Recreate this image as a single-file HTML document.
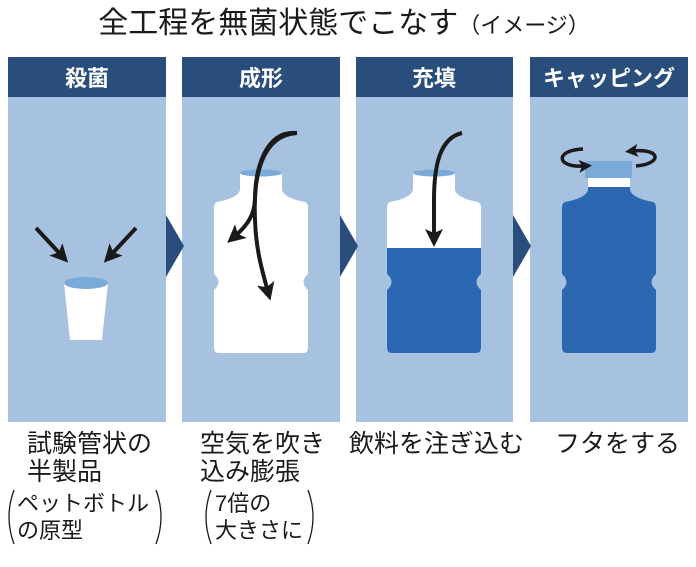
<!DOCTYPE html>
<html><head><meta charset="utf-8"><style>
html,body{margin:0;padding:0;background:#fff;width:696px;height:567px;overflow:hidden}
svg text{font-family:"Liberation Sans","Noto Sans CJK JP",sans-serif}
</style></head><body>
<svg width="696" height="567" viewBox="0 0 696 567" xmlns="http://www.w3.org/2000/svg">
<defs>
<path id="btl" d="M240,173 L282,173 L282,190 Q284,198 305,202 Q308,203 308,208 L308,274 Q299,282 308,290 L308,348 Q308,353 303,353 L219,353 Q214,353 214,348 L214,290 Q223,282 214,274 L214,208 Q214,203 217,202 Q238,198 240,190 Z"/>
<marker id="ah" markerWidth="18" markerHeight="18" refX="9" refY="9" orient="auto" markerUnits="userSpaceOnUse"><path d="M0,0 L18,9 L0,18 L4,9 Z" fill="#1a1a1a"/></marker>
<marker id="ah2" markerWidth="13" markerHeight="13" refX="6" refY="6.5" orient="auto" markerUnits="userSpaceOnUse"><path d="M0,0 L13,6.5 L0,13 L3,6.5 Z" fill="#1a1a1a"/></marker>
</defs>
<text x="344" y="33" text-anchor="middle" font-size="30" fill="#1a1a1a">全工程を無菌状態でこなす<tspan font-size="22">（イメージ）</tspan></text>
<g>
<rect x="8" y="57" width="158" height="40" fill="#2a4e7c"/><rect x="8" y="97" width="158" height="325" fill="#a7c1e0"/>
<rect x="182" y="57" width="158" height="40" fill="#2a4e7c"/><rect x="182" y="97" width="158" height="325" fill="#a7c1e0"/>
<rect x="356" y="57" width="157" height="40" fill="#2a4e7c"/><rect x="356" y="97" width="157" height="325" fill="#a7c1e0"/>
<rect x="530" y="57" width="158" height="40" fill="#2a4e7c"/><rect x="530" y="97" width="158" height="325" fill="#a7c1e0"/>
</g>
<g font-size="22" font-weight="bold" fill="#fff" text-anchor="middle">
<text x="87" y="86">殺菌</text><text x="261" y="86">成形</text><text x="434" y="86">充填</text><text x="609" y="86">キャッピング</text>
</g>
<g fill="#2a4e7c">
<path d="M166,215 L184,246 L166,277 Z"/><path d="M340,215 L358,246 L340,277 Z"/><path d="M513,215 L531,246 L513,277 Z"/>
</g>
<path d="M64,283 L108,283 L102,340 L70,340 Z" fill="#fff"/>
<ellipse cx="86" cy="283" rx="22" ry="6" fill="#7aaad8"/>
<g stroke="#1a1a1a" stroke-width="4" fill="none" marker-end="url(#ah)">
<line x1="36" y1="228" x2="62" y2="256"/><line x1="136" y1="228" x2="110" y2="256"/>
</g>
<use href="#btl" fill="#fff"/>
<ellipse cx="261" cy="173" rx="21" ry="3.5" fill="#7aaad8"/>
<g stroke="#1a1a1a" stroke-width="4" fill="none" marker-end="url(#ah)">
<path d="M297,133 C265,130 255,170 255,200 C254,215 248,225 234,237"/>
<path d="M297,133 C262,135 253,175 255,220 C256,250 262,270 268,292"/>
</g>
<g transform="translate(173,0)">
<use href="#btl" fill="#fff"/>
<clipPath id="cl"><rect x="200" y="248" width="130" height="120"/></clipPath>
<use href="#btl" fill="#2c68b1" clip-path="url(#cl)"/>
<ellipse cx="261" cy="173" rx="21" ry="3.5" fill="#7aaad8"/>
</g>
<g stroke="#1a1a1a" stroke-width="4" fill="none" marker-end="url(#ah)">
<path d="M462,133 C440,138 434,165 434,200 L434,238"/>
</g>
<g transform="translate(348,0)">
<use href="#btl" fill="#2c68b1"/>
</g>
<rect x="588" y="178" width="42" height="9" fill="#fff"/>
<rect x="585" y="161" width="47" height="17" fill="#7aaad8"/>
<g stroke="#1a1a1a" stroke-width="3.5" fill="none" marker-end="url(#ah2)">
<path d="M583,149 C555,150 555,168 585,166"/>
<path d="M636,166 C662,164 662,148 632,151"/>
</g>
<g font-size="25" fill="#1a1a1a">
<text x="27" y="452">試験管状の</text><text x="27" y="480">半製品</text>
<text x="200" y="452">空気を吹き</text><text x="200" y="480">込み膨張</text>
<text x="349" y="452">飲料を注ぎ込む</text>
<text x="555" y="452">フタをする</text>
</g>
<g font-size="22" fill="#1a1a1a">
<text x="17" y="511">ペットボトル</text><text x="17" y="538">の原型</text>
<text x="215" y="511">7倍の</text><text x="215" y="538">大きさに</text>
</g>
<g stroke="#1a1a1a" stroke-width="1.3" fill="none">
<path d="M14,490 Q4,517 14,544"/><path d="M156,490 Q166,517 156,544"/>
<path d="M211,490 Q201,517 211,544"/><path d="M308,490 Q318,517 308,544"/>
</g>
</svg>
</body></html>
